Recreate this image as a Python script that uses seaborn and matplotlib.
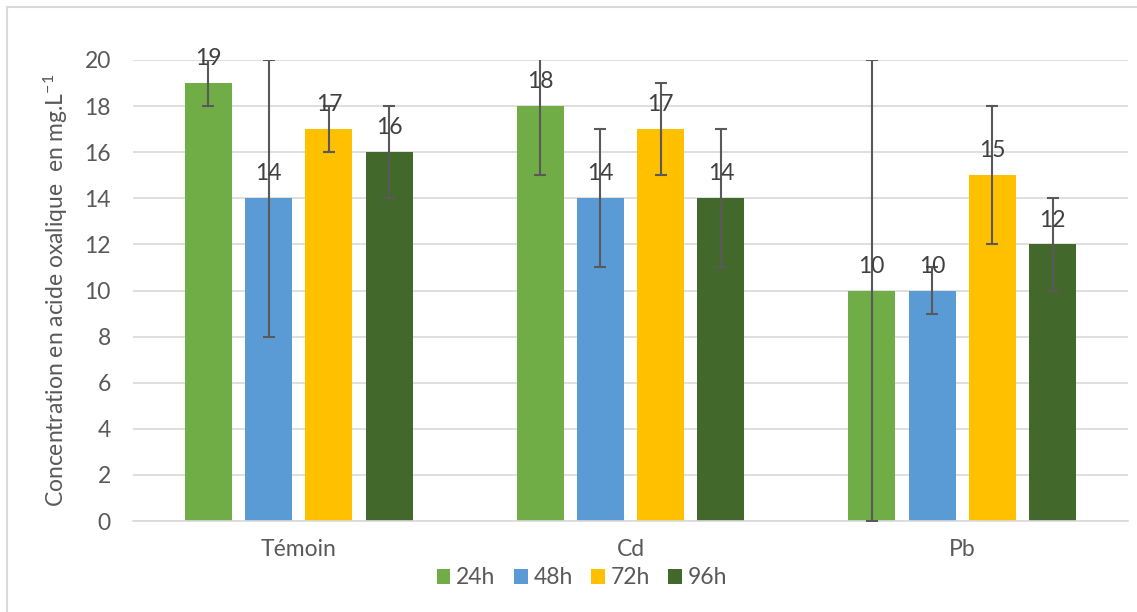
import matplotlib
matplotlib.use("Agg")
import matplotlib.pyplot as plt
import seaborn as sns
import pandas as pd
import numpy as np
from matplotlib.lines import Line2D

categories = ["Témoin", "Cd", "Pb"]
times = ["24h", "48h", "72h", "96h"]
values = {
    "24h": [19, 18, 10],
    "48h": [14, 14, 10],
    "72h": [17, 17, 15],
    "96h": [16, 14, 12],
}
errors = {
    "24h": [1, 3, 10],
    "48h": [6, 3, 1],
    "72h": [1, 2, 3],
    "96h": [2, 3, 2],
}
colors = ["#70AD47", "#5B9BD5", "#FFC000", "#43682B"]
yticks = [0, 2, 4, 6, 8, 10, 12, 14, 16, 18, 20]

rows = []
for t in times:
    for c, v in zip(categories, values[t]):
        rows.append({"cat": c, "time": t, "val": v})
df = pd.DataFrame(rows)

sns.set_theme(style="white")
plt.rcParams["font.family"] = ["Lato", "DejaVu Sans"]
plt.rcParams["mathtext.fontset"] = "custom"
plt.rcParams["mathtext.rm"] = "Lato"
plt.rcParams["mathtext.it"] = "Lato"
plt.rcParams["mathtext.bf"] = "Lato"
txt = "#595959"
FS = 16.5

fig = plt.figure(figsize=(11.37, 6.12), dpi=100)
ax = fig.add_axes([133 / 1137, 1 - 521 / 612, (1128 - 133) / 1137, (521 - 60) / 612])

sns.barplot(data=df, x="cat", y="val", hue="time", order=categories,
            hue_order=times, palette=colors, width=0.727, gap=0.22,
            errorbar=None, saturation=1, ax=ax, legend=True, linewidth=0)

for cont, t in zip(ax.containers, times):
    xs = [p.get_x() + p.get_width() / 2 for p in cont.patches]
    ys = [p.get_height() for p in cont.patches]
    ax.errorbar(xs, ys, yerr=errors[t], fmt="none", ecolor="#595959",
                elinewidth=1.5, capsize=4.3, capthick=1.5, zorder=5)
    ax.bar_label(cont, labels=[f"{v:g}" for v in ys], padding=10,
                 fontsize=FS, color="#404040", zorder=6)

ax.set_ylim(0, 20)
ax.set_xlim(-0.5, 2.5)
ax.set_yticks(yticks)
ax.set_yticklabels([str(v) for v in yticks])
ax.yaxis.grid(True, color="#D9D9D9", linewidth=1.2)
ax.set_axisbelow(True)
for s in ["top", "right", "left"]:
    ax.spines[s].set_visible(False)
ax.spines["bottom"].set_color("#D9D9D9")
ax.spines["bottom"].set_linewidth(1.2)
ax.tick_params(axis="both", length=0, labelsize=FS, colors=txt)
ax.tick_params(axis="y", pad=16)
ax.tick_params(axis="x", pad=13)
ax.set_xlabel("")
ax.set_ylabel("Concentration en acide oxalique  en mg.L$^{\\mathregular{-1}}$", fontsize=FS,
              color=txt, labelpad=10)

leg = ax.get_legend()
handles = leg.legend_handles
leg.remove()
fig.legend(handles, times, loc="center", bbox_to_anchor=(582 / 1137, 1 - 578 / 612),
           ncol=4, frameon=False, fontsize=FS, handlelength=0.6, handleheight=0.6,
           handletextpad=0.25, columnspacing=0.8, labelcolor=txt)

fig.add_artist(Line2D([7 / 1137, 1], [1 - 7 / 612, 1 - 7 / 612], color="#D9D9D9",
                      linewidth=1.5, transform=fig.transFigure))
fig.add_artist(Line2D([7 / 1137, 7 / 1137], [0, 1 - 7 / 612], color="#D9D9D9",
                      linewidth=1.5, transform=fig.transFigure))

fig.savefig("out.png", dpi=100, facecolor="white")
